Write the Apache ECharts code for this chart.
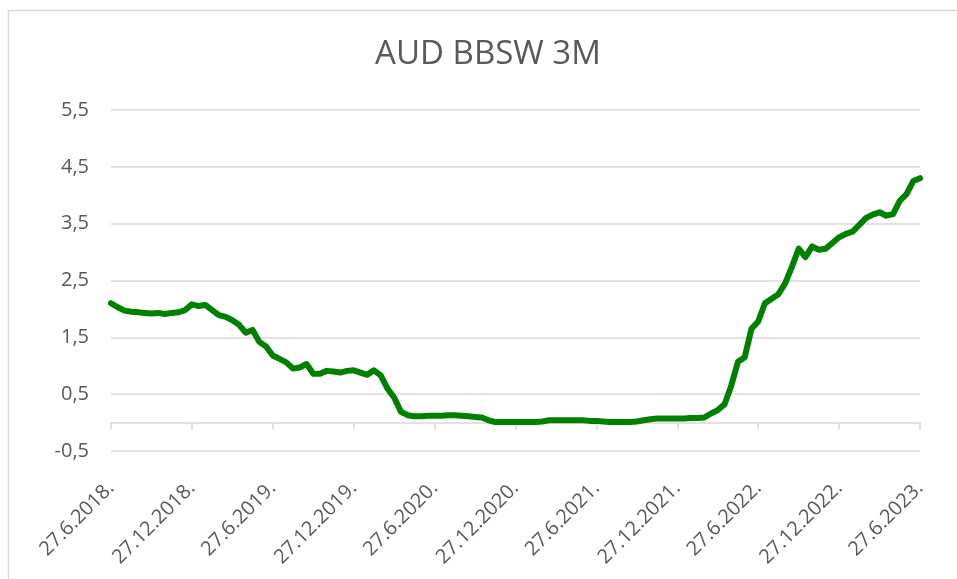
<!DOCTYPE html>
<html>
<head>
<meta charset="utf-8">
<title>AUD BBSW 3M</title>
<script src="https://cdn.jsdelivr.net/npm/echarts@6/dist/echarts.min.js"></script>
<style>
	html, body { margin: 0; padding: 0; background: #fff; }
	#chart { width: 957px; height: 579px; }
</style>
</head>
<body>
<div id="chart"></div>
<script>
	// half-month sampling: 27th and 12th of each month, 27.6.2018. - 27.6.2023.
	var dates = [];
	for (var i = 0; i <= 120; i++) {
		var m = i % 2 === 0 ? 6 + i / 2 : 6 + (i + 1) / 2;
		var day = i % 2 === 0 ? 27 : 12;
		var year = 2018 + Math.floor((m - 1) / 12);
		var month = ((m - 1) % 12) + 1;
		dates.push(day + '.' + month + '.' + year + '.');
	}

	var bbsw3m = [
		2.10, 2.03, 1.97, 1.95, 1.94, 1.93, 1.92, 1.93, 1.91, 1.93,
		1.94, 1.98, 2.08, 2.05, 2.07, 1.98, 1.89, 1.86, 1.80, 1.72,
		1.58, 1.63, 1.42, 1.34, 1.18, 1.12, 1.06, 0.95, 0.97, 1.03,
		0.86, 0.86, 0.91, 0.90, 0.88, 0.91, 0.92, 0.88, 0.84, 0.92,
		0.83, 0.60, 0.44, 0.19, 0.13, 0.11, 0.11, 0.12, 0.12, 0.12,
		0.13, 0.13, 0.12, 0.11, 0.10, 0.09, 0.04, 0.01, 0.01, 0.01,
		0.01, 0.01, 0.01, 0.01, 0.02, 0.04, 0.04, 0.04, 0.04, 0.04,
		0.04, 0.03, 0.03, 0.02, 0.01, 0.01, 0.01, 0.01, 0.02, 0.04,
		0.06, 0.07, 0.07, 0.07, 0.07, 0.07, 0.08, 0.08, 0.09, 0.16,
		0.22, 0.32, 0.65, 1.07, 1.15, 1.65, 1.78, 2.10, 2.18, 2.26,
		2.45, 2.74, 3.06, 2.91, 3.10, 3.04, 3.06, 3.16, 3.26, 3.32,
		3.36, 3.48, 3.60, 3.66, 3.70, 3.64, 3.67, 3.90, 4.02, 4.25,
		4.30
	];

	var chart = echarts.init(document.getElementById('chart'));
	var txt = '#595959';
	var gridCol = '#d9d9d9';
	var font = 'Open Sans';

	chart.setOption({
		animation: false,
		textStyle: { fontFamily: font },
		graphic: [{
			type: 'rect',
			shape: { x: 8.5, y: 10.5, width: 1000, height: 700 },
			style: { fill: 'none', stroke: gridCol, lineWidth: 1.5 },
			silent: true
		}],
		title: {
			text: 'AUD BBSW 3M',
			left: 483,
			textAlign: 'center',
			top: 33,
			textStyle: { color: txt, fontSize: 33, fontWeight: 'normal', fontFamily: font }
		},
		grid: { left: 111, right: 37, top: 110, bottom: 128 },
		xAxis: [
			{
				type: 'category',
				data: dates,
				boundaryGap: false,
				axisLine: { onZero: true, lineStyle: { color: gridCol, width: 1.5 } },
				axisTick: { interval: 11, length: 7, lineStyle: { color: gridCol, width: 1.5 } },
				axisLabel: { show: false },
				splitLine: { show: false }
			},
			{
				type: 'category',
				data: dates,
				boundaryGap: false,
				position: 'bottom',
				axisLine: { show: false, onZero: false },
				axisTick: { show: false },
				axisLabel: {
					interval: 11,
					rotate: 45,
					margin: 34,
					color: txt,
					fontSize: 20,
					fontFamily: font
				},
				splitLine: { show: false }
			}
		],
		yAxis: {
			type: 'value',
			min: -0.5,
			max: 5.5,
			interval: 1,
			axisLine: { show: false },
			axisTick: { show: false },
			axisLabel: {
				margin: 22,
				color: txt,
				fontSize: 20,
				fontFamily: font,
				formatter: function (v) { return v.toFixed(1).replace('.', ','); }
			},
			splitLine: { lineStyle: { color: gridCol, width: 1.5 } }
		},
		series: [{
			name: 'AUD BBSW 3M',
			type: 'line',
			xAxisIndex: 0,
			data: bbsw3m,
			symbol: 'none',
			lineStyle: { color: '#008000', width: 6, cap: 'round', join: 'round' }
		}]
	});
</script>
</body>
</html>
